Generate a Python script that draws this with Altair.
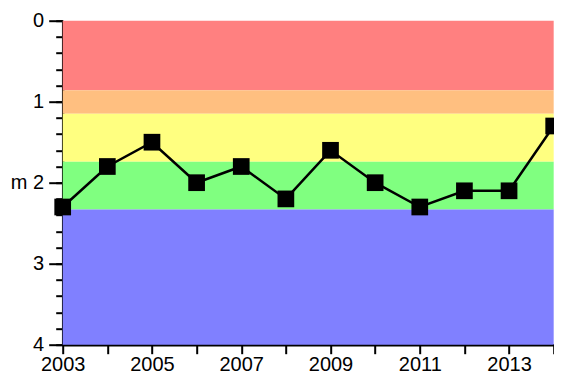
import altair as alt
import pandas as pd

years = [2003, 2004, 2005, 2006, 2007, 2008, 2009, 2010, 2011, 2012, 2013, 2014]
depth = [2.3, 1.8, 1.5, 2.0, 1.8, 2.2, 1.6, 2.0, 2.3, 2.1, 2.1, 1.3]

band_lo = [0.0, 0.86, 1.15, 1.74, 2.33]
band_hi = [0.86, 1.15, 1.74, 2.33, 4.0]
band_colors = ["#FF8080", "#FFBF80", "#FFFF80", "#80FF80", "#8080FF"]
band_names = ["a", "b", "c", "d", "e"]

major_ticks = [0, 1, 2, 3, 4]
minor_ticks = [round(i * 0.2, 1) for i in range(21)]
year_ticks = years

df = pd.DataFrame({"year": years, "depth": depth})
bands = pd.DataFrame({"lo": band_lo, "hi": band_hi, "name": band_names,
                      "x0": [years[0]] * 5, "x1": [years[-1]] * 5})
minor = pd.DataFrame({"v": minor_ticks})

FONT = "Liberation Sans"
W, H = 491, 324

xscale = alt.Scale(domain=[years[0], years[-1]], nice=False, zero=False)
yscale = alt.Scale(domain=[0, 4], reverse=True, nice=False, zero=False)

xaxis = alt.Axis(values=year_ticks, format="d", labelExpr="datum.value % 2 == 1 ? datum.label : ''",
                 tickSize=9, tickWidth=2, tickColor="black", domainColor="black", domainWidth=2.5,
                 labelFontSize=20, labelFont=FONT, labelColor="black", labelPadding=1,
                 grid=False, title=None, labelFlush=False, labelOverlap=False)

yaxis = alt.Axis(values=major_ticks, format="d", tickSize=14, tickWidth=2, tickColor="black",
                 domainColor="black", domainWidth=2.5, labelFontSize=20, labelFont=FONT,
                 labelColor="black", labelPadding=5, grid=False, title="m", titleAngle=0,
                 titleFont=FONT, titleFontSize=20, titleFontWeight="normal", titleColor="black",
                 titleAlign="right", titleBaseline="middle", titleX=-35.7, titleY=H / 2,
                 orient="left", labelFlush=False, labelOverlap=False)

yaxis_minor = alt.Axis(values=minor_ticks, labels=False, tickSize=7, tickWidth=2, tickColor="black",
                       domain=False, grid=False, title=None, orient="left")

rects = alt.Chart(bands).mark_rect().encode(
    x=alt.X("x0:Q", scale=xscale, axis=xaxis),
    x2="x1:Q",
    y=alt.Y("lo:Q", scale=yscale, axis=yaxis),
    y2="hi:Q",
    color=alt.Color("name:N", scale=alt.Scale(domain=band_names, range=band_colors), legend=None),
)

minor_layer = alt.Chart(minor).mark_point(opacity=0).encode(
    y=alt.Y("v:Q", scale=yscale, axis=yaxis_minor),
)

line = alt.Chart(df).mark_line(color="black", strokeWidth=2.5).encode(
    x=alt.X("year:Q", scale=xscale),
    y=alt.Y("depth:Q", scale=yscale, axis=None),
)

pts = alt.Chart(df).mark_square(color="black", size=279, filled=True, opacity=1).encode(
    x=alt.X("year:Q", scale=xscale),
    y=alt.Y("depth:Q", scale=yscale, axis=None),
)

chart = alt.layer(rects, minor_layer, line, pts).resolve_axis(y="independent").properties(
    width=W, height=H,
    autosize=alt.AutoSizeParams(type="none"),
    padding={"left": 54.7, "top": 12.7, "right": 0, "bottom": 30.3},
).configure_view(stroke=None)

chart.save("out.html", embed_options={"renderer": "svg", "actions": False})
